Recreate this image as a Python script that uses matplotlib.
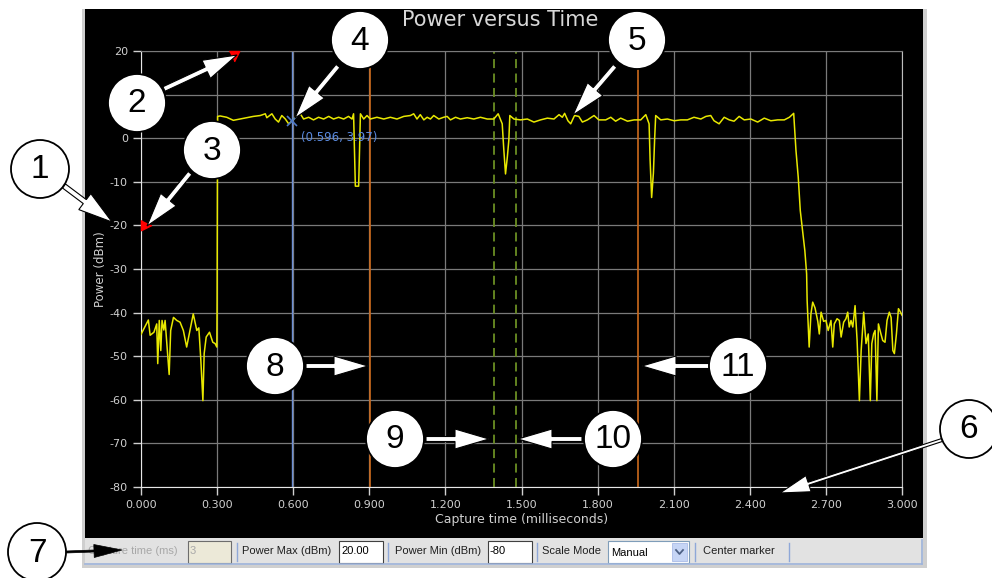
"""Power versus Time capture window with numbered callouts."""

import matplotlib
matplotlib.use("Agg")
import matplotlib.pyplot as plt
from matplotlib.patches import Circle, FancyArrow, Rectangle

W, H = 992, 578
DPI = 100

# captured trace (ms, dBm)
trace_t = [
    0.000, 0.029, 0.036, 0.051, 0.062, 0.066, 0.072, 0.078, 0.083, 0.090,
    0.095, 0.104, 0.111, 0.117, 0.128, 0.141, 0.154, 0.167, 0.180, 0.193,
    0.206, 0.220, 0.228, 0.236, 0.244, 0.249, 0.257, 0.270, 0.283, 0.292,
    0.299, 0.300, 0.302,
    0.312, 0.338, 0.364, 0.391, 0.417, 0.443, 0.470, 0.490, 0.496, 0.516,
    0.529, 0.542, 0.555, 0.569, 0.582, 0.596, 0.615, 0.628, 0.641, 0.661,
    0.680, 0.700, 0.720, 0.740, 0.759, 0.779, 0.799, 0.818, 0.832, 0.838,
    0.845, 0.858, 0.865, 0.878, 0.891, 0.904, 0.930, 0.957, 0.983, 1.009,
    1.036, 1.062, 1.075, 1.088, 1.101, 1.115, 1.128, 1.141, 1.154, 1.174,
    1.193, 1.207, 1.220, 1.240, 1.259, 1.286, 1.312, 1.338, 1.365, 1.391,
    1.408, 1.424, 1.430, 1.437, 1.444, 1.450, 1.454, 1.470, 1.496, 1.523,
    1.549, 1.575, 1.602, 1.628, 1.648, 1.661, 1.670, 1.683, 1.694, 1.709,
    1.726, 1.740, 1.760, 1.786, 1.805, 1.832, 1.852, 1.871, 1.891, 1.918,
    1.944, 1.970, 1.990, 2.003, 2.007, 2.013, 2.020, 2.025, 2.029, 2.049,
    2.075, 2.102, 2.128, 2.154, 2.180, 2.207, 2.227, 2.246, 2.259, 2.279,
    2.299, 2.319, 2.338, 2.358, 2.378, 2.404, 2.431, 2.457, 2.483, 2.510,
    2.536, 2.556, 2.573,
    2.582, 2.591, 2.599, 2.617, 2.624, 2.626, 2.634, 2.641, 2.648, 2.657,
    2.668, 2.674, 2.681, 2.691, 2.700, 2.709, 2.720, 2.727, 2.733, 2.744,
    2.753, 2.760, 2.770, 2.779, 2.786, 2.792, 2.799, 2.806, 2.815, 2.823,
    2.832, 2.839, 2.849, 2.858, 2.867, 2.875, 2.881, 2.888, 2.894, 2.901,
    2.907, 2.917, 2.924, 2.933, 2.941, 2.950, 2.957, 2.964, 2.970, 2.978,
    2.986, 2.994, 3.000,
]
trace_p = [
    -45.0, -41.7, -45.2, -44.5, -42.6, -51.7, -41.8, -48.7, -41.8, -44.0,
    -41.8, -48.7, -54.2, -44.1, -41.1, -41.8, -42.2, -44.1, -47.9, -44.1,
    -40.3, -44.1, -43.5, -51.0, -60.2, -49.4, -45.6, -44.5, -46.8, -47.1,
    -47.9, -37.2, 5.0,
    5.1, 4.8, 4.1, 4.4, 4.7, 5.0, 5.2, 5.6, 4.7, 5.6,
    4.4, 3.7, 5.2, 4.4, 3.3, 3.97, 5.2, 5.6, 4.4, 4.8,
    4.2, 4.8, 4.4, 5.0, 4.4, 4.8, 4.4, 5.0, 4.4, 5.6,
    -11.0, -11.0, 5.6, 4.4, 5.2, 4.4, 4.8, 4.4, 4.8, 4.4,
    5.0, 5.2, 5.6, 4.4, 5.4, 4.2, 4.8, 4.4, 5.2, 4.4,
    4.8, 5.0, 4.2, 4.8, 4.4, 4.7, 4.4, 4.8, 4.4, 4.4,
    5.6, 3.3, -2.4, -8.2, -4.4, -0.5, 5.2, 4.4, 4.2, 4.4,
    3.7, 4.2, 4.6, 4.4, 5.4, 4.8, 5.7, 4.0, 3.3, 5.2,
    5.0, 3.7, 4.2, 5.2, 4.2, 4.2, 4.8, 3.9, 4.6, 3.9,
    4.2, 4.2, 5.4, 3.3, -5.0, -13.6, -8.0, 0.0, 5.2, 4.2,
    4.4, 4.0, 4.2, 4.2, 4.8, 4.4, 5.0, 5.2, 4.0, 3.3,
    4.8, 4.2, 3.9, 5.0, 4.2, 4.4, 3.7, 4.6, 4.0, 4.2,
    4.2, 4.8, 5.7,
    -2.8, -9.0, -16.6, -25.8, -31.1, -37.2, -47.9, -40.3, -37.6, -38.9,
    -42.0, -44.9, -39.9, -42.0, -41.8, -44.1, -41.8, -47.9, -42.6, -41.4,
    -41.8, -45.6, -42.2, -41.4, -39.9, -43.3, -41.8, -43.3, -38.4, -46.4,
    -60.2, -48.7, -39.9, -47.1, -44.9, -60.2, -47.1, -44.9, -44.1, -60.2,
    -42.6, -44.9, -46.4, -46.8, -41.8, -39.9, -41.1, -48.7, -49.4, -44.9,
    -39.1, -39.9, -40.6,
]

x_ticks = [0.0, 0.3, 0.6, 0.9, 1.2, 1.5, 1.8, 2.1, 2.4, 2.7, 3.0]
y_ticks = [20, 10, 0, -10, -20, -30, -40, -50, -60, -70, -80]

marker_t, marker_p = 0.596, 3.97          # blue readout marker
orange_t = [0.904, 1.961]                 # orange gate lines
green_t = [1.391, 1.480]                  # green dashed window
trig_top_t = 0.367                        # red triangle on the top edge
power_max, power_min = 20, -80
trig_level = -20

callout_labels = ["1", "2", "3", "4", "5", "6", "7", "8", "9", "10", "11"]

toolbar_labels = ["Capture time (ms)", "Power Max (dBm)", "Power Min (dBm)",
                  "Scale Mode", "Center marker"]
toolbar_values = ["3", "20.00", "-80", "Manual"]


fig = plt.figure(figsize=(W / DPI, H / DPI), dpi=DPI)
fig.patch.set_facecolor("white")

# ---- window chrome (pixel coordinates) ----
bg = fig.add_axes([0, 0, 1, 1], zorder=0)
bg.set_xlim(0, W)
bg.set_ylim(H, 0)
bg.axis("off")
bg.add_patch(Rectangle((82, 9), 845, 559, fc="#cfcfcf", ec="none"))
bg.add_patch(Rectangle((85, 9), 838, 529, fc="black", ec="none"))
bg.add_patch(Rectangle((85, 538), 838, 27, fc="#e2e2e2", ec="none"))
bg.plot([85, 922], [564, 564], color="#9db3da", lw=1.2)
bg.plot([922, 922], [540, 564], color="#9db3da", lw=1.2)

TB_Y = 551.5
tb_font = dict(fontsize=8, family="Liberation Sans", va="center", ha="left")
bg.text(88, TB_Y, toolbar_labels[0], color="#a8a8a8", **tb_font)
bg.add_patch(Rectangle((188, 541), 43, 22, fc="#ece9d8", ec="#6d6d6d", lw=0.8))
bg.text(190, TB_Y, toolbar_values[0], color="#a8a8a8", **tb_font)
bg.text(242, TB_Y, toolbar_labels[1], color="#202020", **tb_font)
bg.add_patch(Rectangle((339, 541), 44, 22, fc="white", ec="#404040", lw=0.8))
bg.text(341, TB_Y, toolbar_values[1], color="black", **tb_font)
bg.text(395, TB_Y, toolbar_labels[2], color="#202020", **tb_font)
bg.add_patch(Rectangle((488, 541), 44, 22, fc="white", ec="#404040", lw=0.8))
bg.text(490, TB_Y, toolbar_values[2], color="black", **tb_font)
bg.text(542, TB_Y, toolbar_labels[3], color="#202020", **tb_font)
bg.add_patch(Rectangle((608, 541), 81, 22, fc="white", ec="#7f9db9", lw=0.8))
bg.text(611, TB_Y + 1, toolbar_values[3], color="black", **tb_font)
bg.add_patch(Rectangle((672, 543), 15, 18, fc="#c6d5f5", ec="#aabce8", lw=0.6))
bg.plot([676, 679.5, 683], [550, 554, 550], color="#4d6185", lw=1.3)
bg.text(703, TB_Y, toolbar_labels[4], color="#202020", **tb_font)
for sx in [237, 388, 537, 695, 789]:
    bg.plot([sx, sx], [543, 561], color="#8fa8d8", lw=1)

# ---- the plot itself ----
ax = fig.add_axes([141 / W, 1 - 487 / H, 761 / W, 436 / H], zorder=1)
ax.set_facecolor("black")
ax.set_xlim(0, 3.0)
ax.set_ylim(power_min, power_max)
ax.set_xticks(x_ticks)
ax.set_xticklabels([f"{t:.3f}" for t in x_ticks])
ax.set_yticks(y_ticks)
ax.set_yticklabels([str(v) for v in y_ticks])
ax.tick_params(colors="#d0d0d0", labelsize=8, length=6, width=1)
ax.grid(color="#7a7a7a", lw=0.9)
for side in ["left", "bottom"]:
    ax.spines[side].set_color("#e6e6e6")
ax.spines["right"].set_color("#bdbdbd")
ax.spines["top"].set_color("#7a7a7a")
ax.set_xlabel("Capture time (milliseconds)", color="#d0d0d0", fontsize=9, labelpad=2)
ax.set_ylabel("Power (dBm)", color="#d0d0d0", fontsize=8.5, labelpad=2)

ax.axvline(marker_t, color="#6d8fd6", lw=1)
for t in orange_t:
    ax.axvline(t, color="#cc6a1c", lw=1.2)
for t in green_t:
    ax.axvline(t, color="#6b8e23", lw=1.3, dashes=(5, 3))

ax.plot(trace_t, trace_p, color="#e8e800", lw=1.1, zorder=3)

ax.plot([marker_t], [marker_p], marker="x", color="#4d78c8", ms=7, mew=1.2, zorder=4)
ax.annotate(f"({marker_t}, {marker_p})", (marker_t, marker_p), xytext=(6, -12),
            textcoords="offset points", color="#5b8be0", fontsize=8.5,
            ha="left", va="center", zorder=4)

ax.plot([trig_top_t], [power_max], marker=[(-1, 0), (1, 0), (0, -2)], ms=15,
        color="red", clip_on=False, zorder=5)
ax.plot([0], [trig_level], marker=[(0, 1), (0, -1), (2, 0)], ms=15,
        color="red", clip_on=False, zorder=5)

fig.text(500 / W, 1 - 20 / H, "Power versus Time", ha="center", va="center",
         fontsize=15, color="#d8d8d8", zorder=2)

# ---- numbered callouts (pixel coordinates) ----
ov = fig.add_axes([0, 0, 1, 1], zorder=3)
ov.set_xlim(0, W)
ov.set_ylim(H, 0)
ov.axis("off")

callouts = [
    # centre, tail, tip, style
    ((40, 169), (64, 186), (112, 222), "big"),
    ((137, 103), (164, 89), (237, 55), "big"),
    ((212, 150), (190, 173), (147, 226), "big"),
    ((360, 40), (338, 66), (295, 118), "big"),
    ((637, 40), (615, 66), (573, 115), "big"),
    ((969, 429), (942, 440), (780, 493), "thin"),
    ((37, 552), (66, 552), (122, 550), "black"),
    ((275, 366), (306, 366), (368, 366), "big"),
    ((395, 439), (426, 439), (489, 439), "big"),
    ((613, 439), (582, 439), (518, 439), "big"),
    ((738, 366), (709, 366), (642, 366), "big"),
]
arrow_styles = {
    "big": dict(width=5, head_width=20, head_length=34, fc="white", ec="black", lw=0.8),
    "thin": dict(width=3, head_width=17, head_length=30, fc="white", ec="black", lw=0.8),
    "black": dict(width=2, head_width=13, head_length=28, fc="black", ec="black", lw=0.5),
}
for label, (centre, tail, tip, style) in zip(callout_labels, callouts):
    ov.add_patch(FancyArrow(tail[0], tail[1], tip[0] - tail[0], tip[1] - tail[1],
                            length_includes_head=True, **arrow_styles[style]))
    ov.add_patch(Circle(centre, 29, fc="white", ec="black", lw=1.3))
    ov.text(centre[0], centre[1] + 1, label, ha="center", va="center",
            fontsize=24, family="Liberation Sans", color="black")

fig.savefig("out.png", dpi=DPI, facecolor="white")
